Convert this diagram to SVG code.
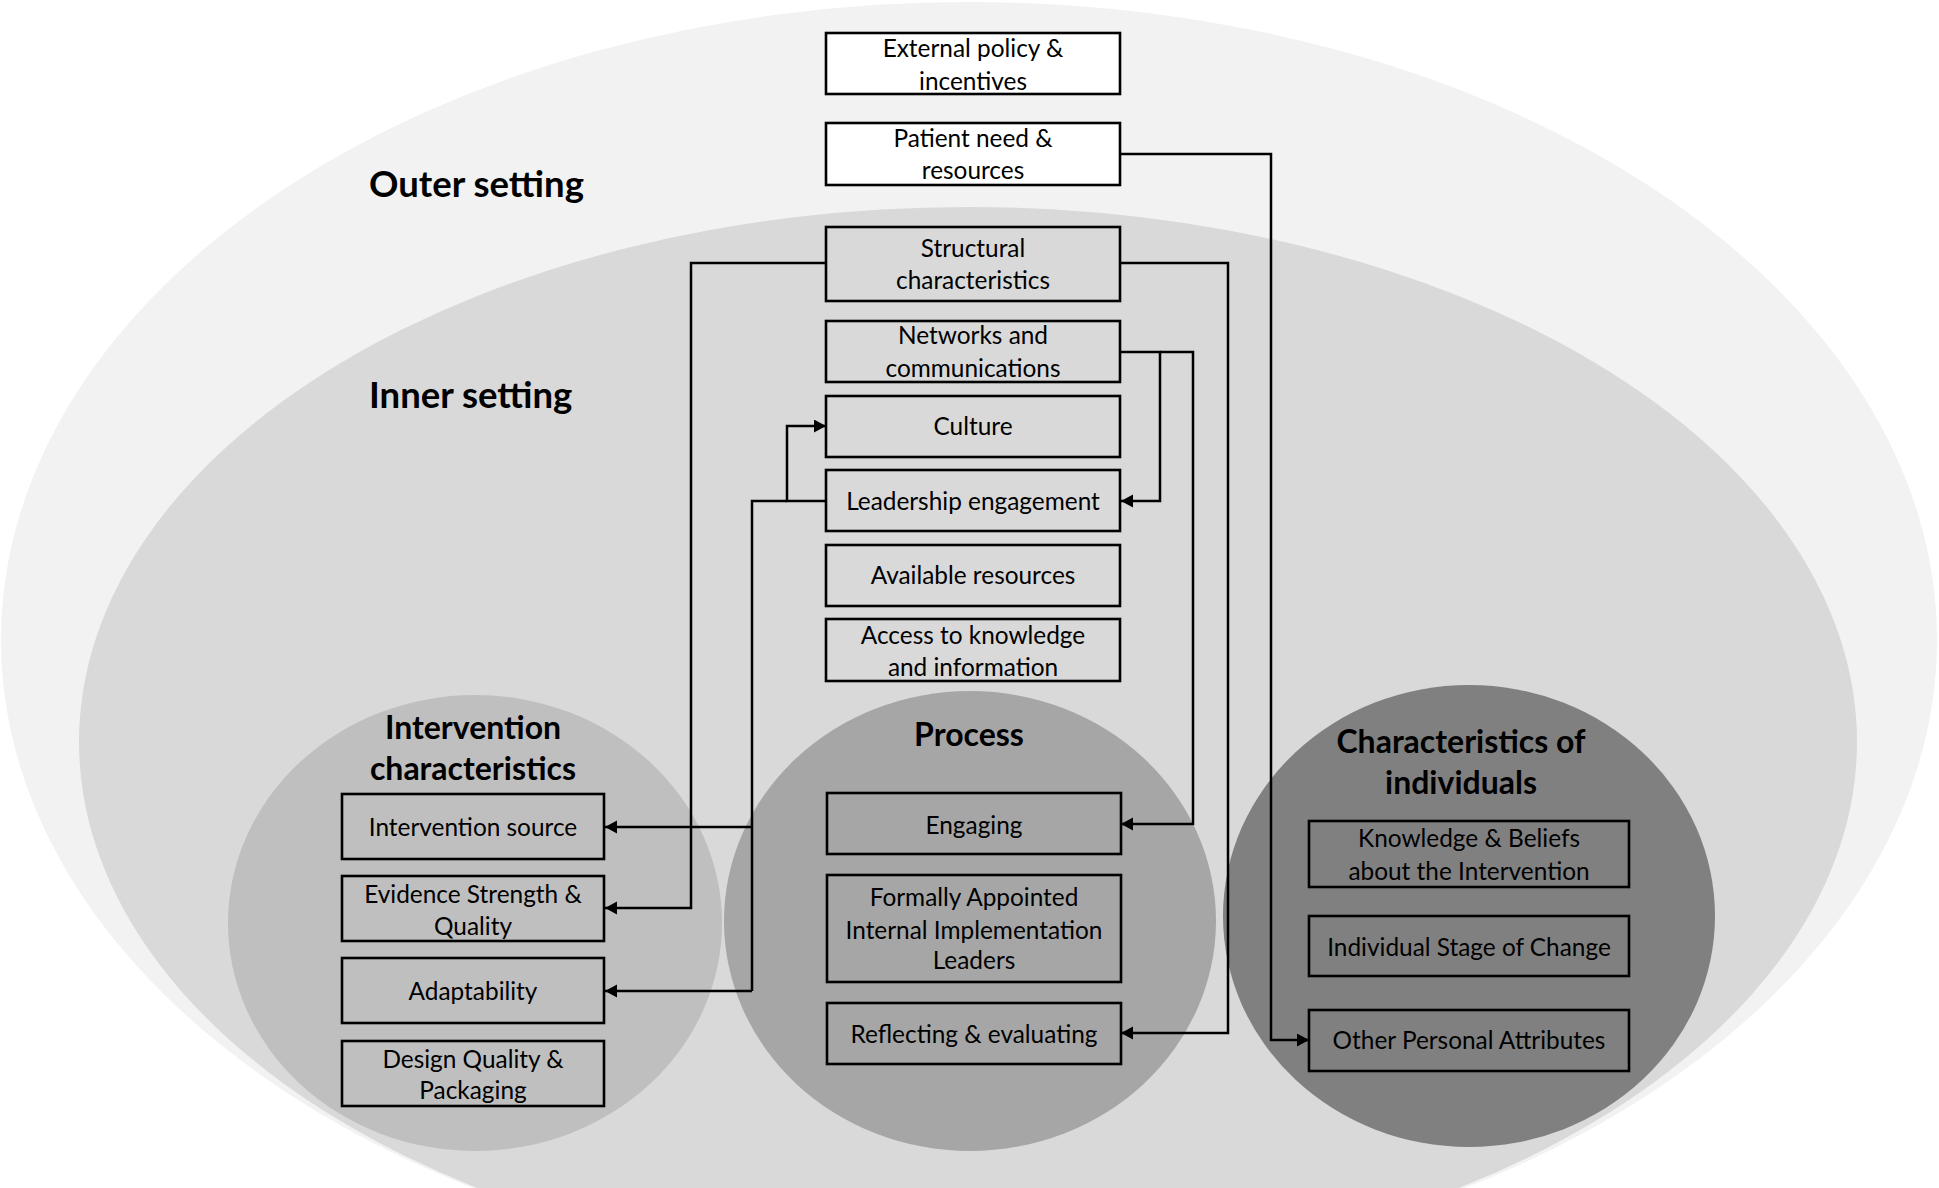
<svg xmlns="http://www.w3.org/2000/svg" width="1939" height="1188" viewBox="0 0 1939 1188">
<defs>
<style>
.box{fill:none;stroke:#000;stroke-width:2.6}
.wbox{fill:#fff;stroke:#000;stroke-width:2.6}
.t{font-family:Lato,"Liberation Sans",sans-serif;font-size:24.4px;fill:#000;text-anchor:middle}
.h{font-family:Lato,"Liberation Sans",sans-serif;font-weight:bold;font-size:32px;fill:#000;text-anchor:middle}
.hs{font-family:Lato,"Liberation Sans",sans-serif;font-weight:bold;font-size:36.5px;fill:#000}
.c{fill:none;stroke:#000;stroke-width:2.5;marker-end:url(#ah)}
.cn{fill:none;stroke:#000;stroke-width:2.5}
</style>
<marker id="ah" markerUnits="userSpaceOnUse" markerWidth="14" markerHeight="14" refX="12" refY="6.5" orient="auto">
<path d="M0,0 L12,6.5 L0,13 z" fill="#000"/>
</marker>
</defs>
<rect width="1939" height="1188" fill="#fff"/>
<g id="backgrounds">
<ellipse id="outer-setting-area" cx="969" cy="640" rx="968" ry="638" fill="#f2f2f2"/>
<ellipse id="inner-setting-area" cx="968" cy="742" rx="889" ry="535" fill="#d9d9d9"/>
<ellipse id="intervention-area" cx="475" cy="923" rx="247" ry="228" fill="#bfbfbf"/>
<ellipse id="process-area" cx="970" cy="921" rx="246" ry="230" fill="#a6a6a6"/>
<ellipse id="individuals-area" cx="1469" cy="916" rx="246" ry="231" fill="#808080"/>
</g>
<g id="headings">
<text class="hs" x="369" y="197">Outer setting</text>
<text class="hs" x="369" y="408">Inner setting</text>
<text class="h" x="473" y="739">Intervention</text>
<text class="h" x="473" y="780">characteristics</text>
<text class="h" x="969" y="746">Process</text>
<text class="h" x="1461" y="753">Characteristics of</text>
<text class="h" x="1461" y="794">individuals</text>
</g>
<g id="connectors">
<path class="c" d="M1120,154 H1271 V1040 H1309"/>
<path class="c" d="M826,263 H691 V908 H605"/>
<path class="c" d="M1120,263 H1228 V1033 H1121"/>
<path class="c" d="M1120,352 H1160 V501 H1121"/>
<path class="c" d="M1160,352 H1193 V824 H1121"/>
<path class="c" d="M826,501 H787 V426 H826"/>
<path class="cn" d="M787,501 H752 V991"/>
<path class="c" d="M752,991 H605"/>
<path class="c" d="M752,827 H605"/>
</g>
<g id="node-external-policy">
<rect class="wbox" x="826" y="33" width="294" height="61"/>
<text class="t" x="973" y="57">External policy &amp;</text>
<text class="t" x="973" y="90">incentives</text>
</g>
<g id="node-patient-need">
<rect class="wbox" x="826" y="123" width="294" height="62"/>
<text class="t" x="973" y="147">Patient need &amp;</text>
<text class="t" x="973" y="179">resources</text>
</g>
<g id="node-structural">
<rect class="box" x="826" y="227" width="294" height="74"/>
<text class="t" x="973" y="257">Structural</text>
<text class="t" x="973" y="289">characteristics</text>
</g>
<g id="node-networks">
<rect class="box" x="826" y="321" width="294" height="61"/>
<text class="t" x="973" y="344">Networks and</text>
<text class="t" x="973" y="377">communications</text>
</g>
<g id="node-culture">
<rect class="box" x="826" y="396" width="294" height="61"/>
<text class="t" x="973" y="435">Culture</text>
</g>
<g id="node-leadership">
<rect class="box" x="826" y="470" width="294" height="61"/>
<text class="t" x="973" y="510">Leadership engagement</text>
</g>
<g id="node-available-resources">
<rect class="box" x="826" y="545" width="294" height="61"/>
<text class="t" x="973" y="584">Available resources</text>
</g>
<g id="node-access-knowledge">
<rect class="box" x="826" y="619" width="294" height="62"/>
<text class="t" x="973" y="644">Access to knowledge</text>
<text class="t" x="973" y="676">and information</text>
</g>
<g id="node-intervention-source">
<rect class="box" x="342" y="794" width="262" height="65"/>
<text class="t" x="473" y="836">Intervention source</text>
</g>
<g id="node-evidence">
<rect class="box" x="342" y="876" width="262" height="65"/>
<text class="t" x="473" y="903">Evidence Strength &amp;</text>
<text class="t" x="473" y="935">Quality</text>
</g>
<g id="node-adaptability">
<rect class="box" x="342" y="958" width="262" height="65"/>
<text class="t" x="473" y="1000">Adaptability</text>
</g>
<g id="node-design-quality">
<rect class="box" x="342" y="1041" width="262" height="65"/>
<text class="t" x="473" y="1068">Design Quality &amp;</text>
<text class="t" x="473" y="1099">Packaging</text>
</g>
<g id="node-engaging">
<rect class="box" x="827" y="793" width="294" height="61"/>
<text class="t" x="974" y="834">Engaging</text>
</g>
<g id="node-formally-appointed">
<rect class="box" x="827" y="875" width="294" height="107"/>
<text class="t" x="974" y="906">Formally Appointed</text>
<text class="t" x="974" y="939">Internal Implementation</text>
<text class="t" x="974" y="969">Leaders</text>
</g>
<g id="node-reflecting">
<rect class="box" x="827" y="1003" width="294" height="61"/>
<text class="t" x="974" y="1043">Reflecting &amp; evaluating</text>
</g>
<g id="node-knowledge-beliefs">
<rect class="box" x="1309" y="821" width="320" height="66"/>
<text class="t" x="1469" y="847">Knowledge &amp; Beliefs</text>
<text class="t" x="1469" y="880">about the Intervention</text>
</g>
<g id="node-stage-of-change">
<rect class="box" x="1309" y="916" width="320" height="60"/>
<text class="t" x="1469" y="956">Individual Stage of Change</text>
</g>
<g id="node-personal-attributes">
<rect class="box" x="1309" y="1010" width="320" height="61"/>
<text class="t" x="1469" y="1049">Other Personal Attributes</text>
</g>
</svg>
